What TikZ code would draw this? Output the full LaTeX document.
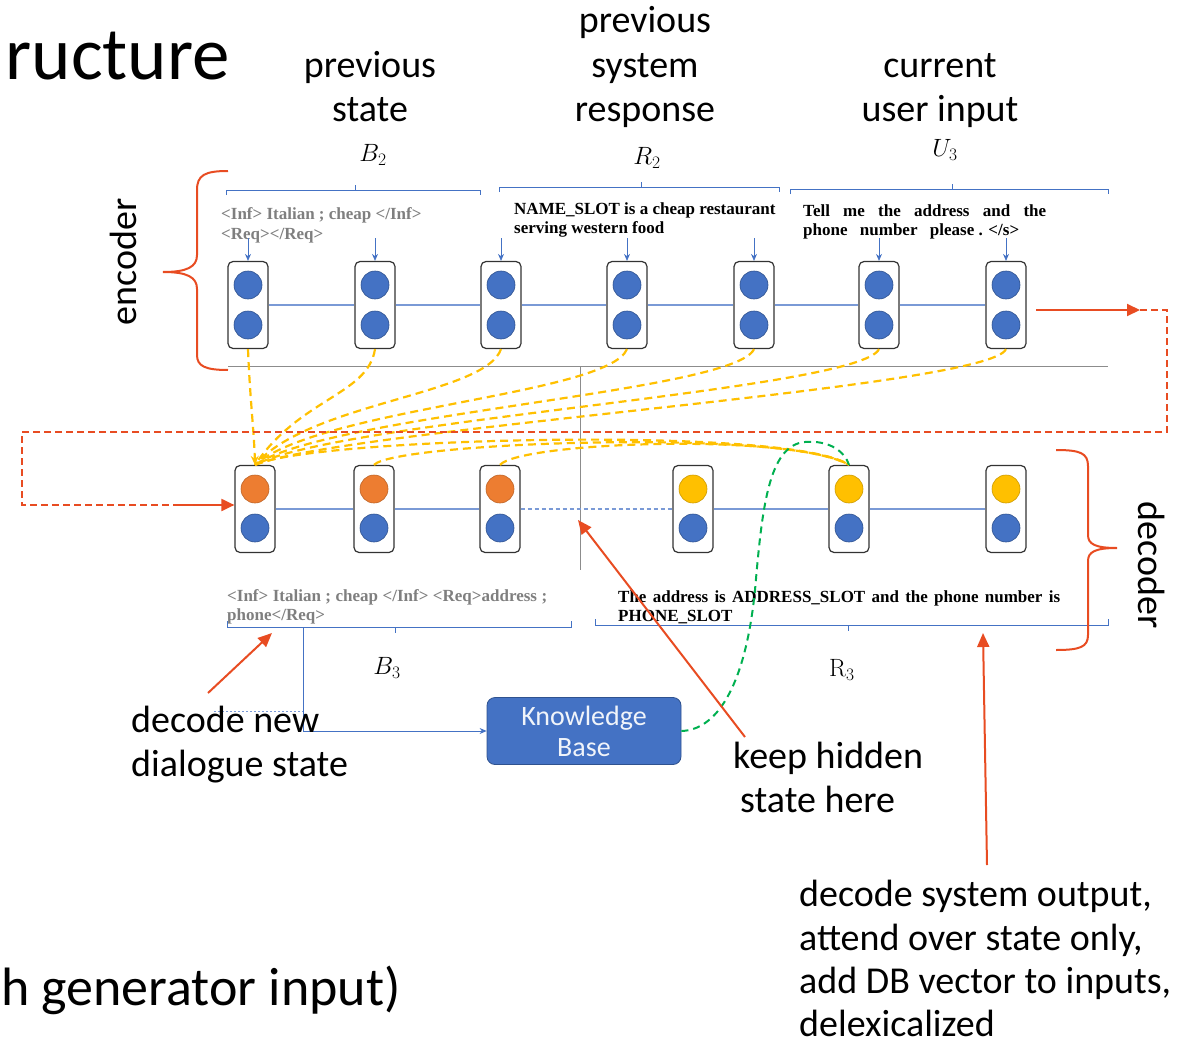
\documentclass[tikz,border=0pt]{standalone}
\usepackage{fix-cm}
\usepackage{fontspec}
\newfontfamily\lblfont{Carlito}
\newfontfamily\serfont{Liberation Serif}
\usetikzlibrary{arrows.meta,calc}
\definecolor{cblue}{HTML}{4472C4}
\definecolor{cbluedark}{HTML}{2F528F}
\definecolor{clight}{HTML}{7A9AD6}
\definecolor{corange}{HTML}{ED7D31}
\definecolor{cyellow}{HTML}{FFC000}
\definecolor{cred}{HTML}{E84C22}
\definecolor{cgreen}{HTML}{00B050}
\definecolor{cgreytext}{HTML}{7F7F7F}
\definecolor{cgreyline}{HTML}{8C8C8C}
\begin{document}
\begin{tikzpicture}[x=1pt,y=-1pt,
 cell/.style={draw=black!80, line width=1.2pt, rounded corners=5pt, minimum width=40pt, minimum height=87pt, inner sep=0pt, fill=white},
 dotb/.style={circle, fill=cblue, draw=cbluedark, line width=0.6pt, minimum size=28pt, inner sep=0pt},
 doto/.style={dotb, fill=corange, draw=corange!80!black},
 doty/.style={dotb, fill=cyellow, draw=cyellow!80!black},
 link/.style={draw=clight, line width=1.1pt},
 inarrow/.style={draw=cblue, line width=0.8pt, -{Stealth[length=7pt,width=6pt]}},
 bracket/.style={draw=cblue, line width=0.8pt},
 attn/.style={draw=cyellow, line width=2.2pt, dash pattern=on 8pt off 5pt},
 redarrow/.style={draw=cred, line width=2pt, -{Triangle[length=13pt,width=12pt]}},
 redthin/.style={draw=cred, line width=2pt, -{Triangle[length=14pt,width=12pt]}},
 reddash/.style={draw=cred, line width=2pt, dash pattern=on 7pt off 4pt},
 redbrace/.style={draw=cred, line width=2pt},
 lbl/.style={font=\lblfont\fontsize{38}{44}\selectfont, inner sep=0pt},
 mathlbl/.style={font=\fontsize{25}{30}\selectfont, inner sep=0pt},
 sertext/.style={font=\serfont\bfseries\fontsize{17}{19}\selectfont, inner sep=0pt, anchor=base west},
 kb/.style={fill=cblue, draw=cbluedark, line width=0.8pt, rounded corners=8pt, minimum width=194pt, minimum height=67pt, text=white!92!cblue, align=center, inner sep=0pt, font=\lblfont\fontsize{28}{31}\selectfont}
]
\useasboundingbox (0,0) rectangle (1186,1046);

% ---------- big labels ----------
\node[lbl, anchor=base east, font=\lblfont\fontsize{75}{80}\selectfont] (title) at (230,80) {ructure};
\node[lbl, anchor=base east, font=\lblfont\fontsize{54}{60}\selectfont] (gen) at (401,1005) {h generator input)};

\node[lbl, anchor=base] (ps1) at (370,78) {previous};
\node[lbl, anchor=base] (ps2) at (370,122) {state};
\node[lbl, anchor=base] (pr1) at (645,33) {previous};
\node[lbl, anchor=base] (pr2) at (645,78) {system};
\node[lbl, anchor=base] (pr3) at (645,122) {response};
\node[lbl, anchor=base] (cu1) at (940,78) {current};
\node[lbl, anchor=base] (cu2) at (940,122) {user input};

\node[mathlbl] (B2) at (373,155) {$B_2$};
\node[mathlbl] (R2) at (647,158) {$R_2$};
\node[mathlbl] (U3) at (945,150) {$U_3$};
\node[mathlbl] (B3) at (387,668) {$B_3$};
\node[mathlbl] (R3) at (842,670) {$\mathrm{R}_3$};

\node[lbl, rotate=90] (enc) at (123,262) {encoder};
\node[lbl, rotate=-90] (dec) at (1152,565) {decoder};

% ---------- top brackets ----------
\draw[bracket] (226,195) -- (226,190) -- (480,190) -- (480,195) (355,190) -- (355,185);
\draw[bracket] (499,192) -- (499,187) -- (779,187) -- (779,192) (641,187) -- (641,182);
\draw[bracket] (790,194) -- (790,189) -- (1108,189) -- (1108,194) (952,189) -- (952,184);

% ---------- encoder texts ----------
\node[sertext, text=cgreytext] (t1a) at (221,219) {<Inf> Italian ; cheap </Inf>};
\node[sertext, text=cgreytext] (t1b) at (221,239) {<Req></Req>};
\node[sertext] (t2a) at (514,214) {NAME\_SLOT is a cheap restaurant};
\node[sertext] (t2b) at (514,233) {serving western food};
\node[sertext] (t3a) at (803,216) {\makebox[243pt][s]{Tell me the address and the}};
\node[sertext] (t3b) at (803,235) {\makebox[216pt][s]{phone number \mbox{please . </s>}}};

% ---------- grey separators ----------
\draw[cgreyline, line width=1pt] (228,366) -- (1108,366);
\draw[cgreyline, line width=1pt] (580,366) -- (580,570);

% ---------- encoder cells ----------
\foreach \i/\x in {1/248,2/375,3/501,4/627,5/754,6/879,7/1006}{
  \node[cell] (e\i) at (\x,305) {};
  \node[dotb] (e\i t) at (\x,285) {};
  \node[dotb] (e\i b) at (\x,325) {};
  \draw[inarrow] (\x,238) -- (e\i.north);
}
\foreach \a/\b in {1/2,2/3,3/4,4/5,5/6,6/7}{
  \draw[link] (e\a.east) -- (e\b.west);
}

% ---------- decoder cells ----------
\foreach \i/\x/\st in {1/255/doto,2/374/doto,3/500/doto,4/693/doty,5/849/doty,6/1006/doty}{
  \node[cell] (d\i) at (\x,509) {};
  \node[\st] (d\i t) at (\x,489) {};
  \node[dotb] (d\i b) at (\x,528) {};
}
\draw[link] (d1.east) -- (d2.west);
\draw[link] (d2.east) -- (d3.west);
\draw[link, dash pattern=on 4pt off 3pt] (d3.east) -- (d4.west);
\draw[link] (d4.east) -- (d5.west);
\draw[link] (d5.east) -- (d6.west);

% ---------- attention curves ----------
\draw[attn, -{Stealth[length=9pt,width=8pt]}] (e1.south) .. controls (250,400) and (254,430) .. (d1.north);
\draw[attn] (e2.south) .. controls (368,395) and (300,398) .. (d1.north);
\draw[attn] (e3.south) .. controls (485,395) and (310,402) .. (d1.north);
\draw[attn] (e4.south) .. controls (608,395) and (320,408) .. (d1.north);
\draw[attn] (e5.south) .. controls (735,392) and (330,414) .. (d1.north);
\draw[attn] (e6.south) .. controls (860,390) and (340,420) .. (d1.north);
\draw[attn] (e7.south) .. controls (990,388) and (350,428) .. (d1.north);

\draw[attn] (d1.north) .. controls (310,438) and (790,425) .. (d5.north);
\draw[attn] (d2.north) .. controls (395,442) and (790,428) .. (d5.north);
\draw[attn] (d3.north) .. controls (520,442) and (790,432) .. (d5.north);

% ---------- decoder texts ----------
\node[sertext, text=cgreytext] (s1a) at (227,601) {\makebox[320pt][s]{<Inf> Italian ; cheap </Inf> <Req>address ;}};
\node[sertext, text=cgreytext] (s1b) at (227,620) {phone</Req>};
\node[sertext] (s2a) at (618,602) {\makebox[442pt][s]{The address is ADDRESS\_SLOT and the phone number is}};
\node[sertext] (s2b) at (618,621) {PHONE\_SLOT};

% ---------- bottom brackets ----------
\draw[bracket] (227,621) -- (227,627) -- (571,627) -- (571,621) (395,627) -- (395,633);
\draw[bracket] (595,619) -- (595,625) -- (1108,625) -- (1108,619) (848,625) -- (848,631);

% ---------- knowledge base ----------
\node[kb] (kb) at (584,731) {Knowledge\\Base};
\coordinate (b3out) at (303,627);
\draw[bracket, -{Stealth[length=7pt,width=6pt]}] (b3out) -- (303,731) -- (kb.west);
\draw[draw=clight, line width=1pt, dash pattern=on 2pt off 2pt] (214,711) -- (303,711);

% green dashed
\draw[draw=cgreen, line width=2pt, dash pattern=on 7pt off 5pt] (kb.east) .. controls (715,730) and (745,690) .. (755,590) .. controls (762,510) and (768,445) .. (805,442) .. controls (830,440) and (845,452) .. (d5.north);

% ---------- red braces ----------
\draw[redbrace] (228,171) .. controls (205,171) and (197,175) .. (197,190) -- (197,255) .. controls (197,267) and (187,272) .. (163,272) .. controls (187,272) and (197,277) .. (197,289) -- (197,355) .. controls (197,366) and (205,370) .. (228,370);
\draw[redbrace] (1056,450) .. controls (1080,450) and (1088,453) .. (1088,466) -- (1088,535) .. controls (1088,544) and (1095,548) .. (1117,548) .. controls (1095,548) and (1088,552) .. (1088,561) -- (1088,635) .. controls (1088,647) and (1080,650) .. (1056,650);

% ---------- red arrows ----------
\coordinate (encout) at (1036,310);
\coordinate (encturn) at (1140,310);
\coordinate (decin) at (180,505);
\draw[redarrow] (encout) -- (encturn);
\draw[reddash] (encturn) -- (1167,310) -- (1167,432) -- (22,432) -- (22,505) -- (decin);
\draw[redarrow] (decin) -- ($(d1.west)+(0,-4)$);

% ---------- annotations ----------
\node[lbl, anchor=base west] (dn1) at (131,732) {decode new};
\node[lbl, anchor=base west] (dn2) at (131,776) {dialogue state};
\node[lbl, anchor=base west] (kh1) at (733,768) {keep hidden};
\node[lbl, anchor=base west] (kh2) at (740,812) {state here};
\node[lbl, anchor=base west] (ds1) at (799,906) {decode system output,};
\node[lbl, anchor=base west] (ds2) at (799,950) {attend over state only,};
\node[lbl, anchor=base west] (ds3) at (799,993) {add DB vector to inputs,};
\node[lbl, anchor=base west] (ds4) at (799,1036) {delexicalized};

\coordinate (dnarr) at (208,693);
\coordinate (dntip) at (272,633);
\draw[redthin] (dnarr) -- (dntip);
\coordinate (kharr) at (745,737);
\coordinate (khtip) at (578,520);
\draw[redthin] (kharr) -- (khtip);
\coordinate (dsarr) at (987,865);
\coordinate (dstip) at (983,633);
\draw[redthin] (dsarr) -- (dstip);
\end{tikzpicture}
\end{document}
